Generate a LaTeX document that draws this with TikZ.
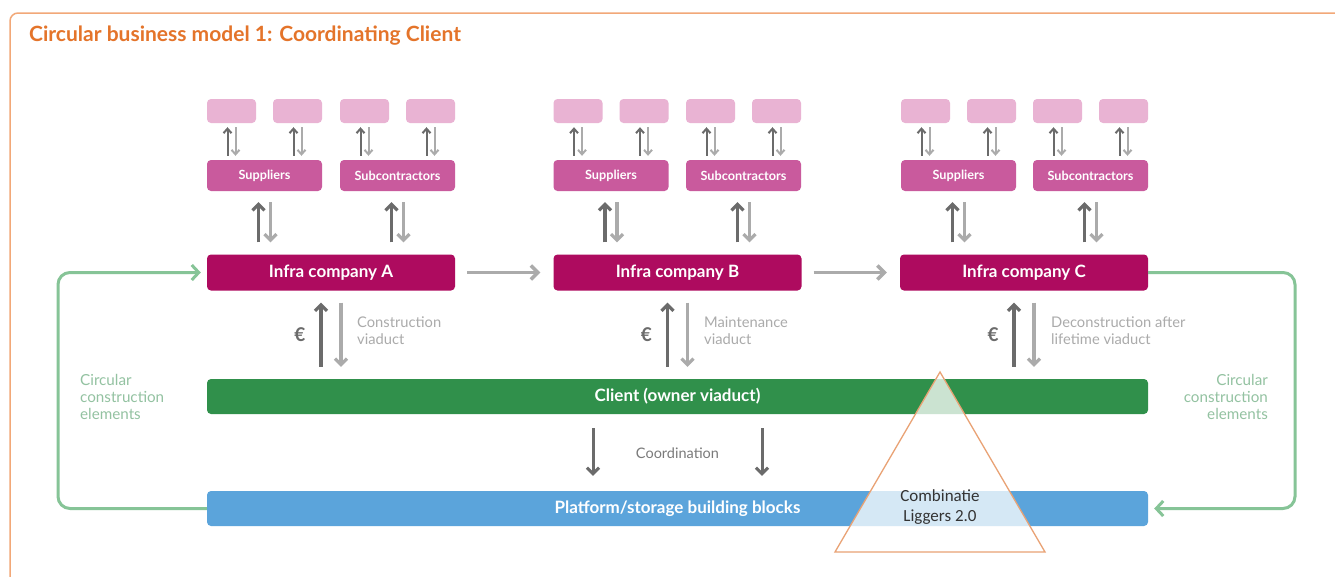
\documentclass[tikz,border=0pt]{standalone}
\usepackage{fontspec}
\setmainfont{Lato}
\newfontfamily\calib{Carlito}
\usetikzlibrary{arrows.meta,calc}
\definecolor{frameor}{HTML}{F2A878}
\definecolor{titleor}{HTML}{E4742A}
\definecolor{pinklt}{HTML}{E9B3D3}
\definecolor{pinkmd}{HTML}{C95A9D}
\definecolor{magen}{HTML}{AE0B5F}
\definecolor{clgreen}{HTML}{30904B}
\definecolor{plblue}{HTML}{5BA4DB}
\definecolor{loopgr}{HTML}{86C497}
\definecolor{txtgr}{HTML}{93C2A1}
\definecolor{ardark}{HTML}{6B6B6B}
\definecolor{arlight}{HTML}{ABABAB}
\definecolor{trior}{HTML}{E9A274}
\tikzset{
  leaf/.style={fill=pinklt,rounded corners=4pt,minimum width=49pt,minimum height=24pt,inner sep=0pt},
  party/.style={fill=pinkmd,rounded corners=4pt,minimum width=115pt,minimum height=31pt,inner sep=0pt,text=white,font=\fontsize{12.7}{15}\selectfont\bfseries},
  infra/.style={fill=magen,rounded corners=4pt,minimum width=248pt,minimum height=36pt,inner sep=0pt,text=white,font=\fontsize{17}{20}\selectfont\bfseries},
  bar/.style={rounded corners=4pt,minimum width=941pt,minimum height=35pt,inner sep=0pt,text=white,font=\fontsize{17}{20}\selectfont\bfseries},
  upsm/.style={draw=ardark,line width=2pt,-{Straight Barb[length=4.5pt,width=8pt]}},
  dnsm/.style={draw=arlight,line width=2pt,-{Straight Barb[length=4.5pt,width=8pt]}},
  upbig/.style={draw=ardark,line width=3.2pt,-{Straight Barb[length=6pt,width=12pt]}},
  dnbig/.style={draw=arlight,line width=3.2pt,-{Straight Barb[length=6pt,width=12pt]}},
  flow/.style={draw=arlight,line width=3.5pt,-{Straight Barb[length=7pt,width=14pt]}},
  loop/.style={draw=loopgr,line width=3pt,rounded corners=12pt,-{Straight Barb[length=7pt,width=15pt]}},
  grtxt/.style={text=arlight,font=\fontsize{14.7}{17}\selectfont,align=left,anchor=west,inner sep=0pt},
  euro/.style={text=ardark,font=\fontsize{19}{22}\selectfont\bfseries,inner sep=0pt},
  circ/.style={text=txtgr,font=\fontsize{15.2}{16.8}\selectfont,inner sep=0pt},
}
\begin{document}
\begin{tikzpicture}[x=1pt,y=-1pt]
\useasboundingbox (0,0) rectangle (1335,576);
\clip (0,0) rectangle (1335,576);
\fill[white] (0,0) rectangle (1335,576);
\draw[frameor,line width=1.5pt,rounded corners=8pt] (10,13) rectangle (1360,600);
\node[anchor=west,text=titleor,font=\fontsize{21}{24}\selectfont\bfseries,inner sep=0pt] (title) at (29,36) {Circular business model 1: Coordinating Client};

% bars
\node[bar,fill=clgreen] (cl) at (677.5,396.5) {Client (owner viaduct)};
\node[bar,fill=plblue] (pl) at (677.5,508.5) {Platform/storage building blocks};

% three companies
\foreach \n/\cx/\sx/\bx in {A/331/264.5/397.5, B/677.5/611/743.5, C/1024/958.5/1090.5}{
  \node[infra] (i\n) at (\cx,272.5) {Infra company \n};
  \node[party] (sup\n) at (\sx,175.5) {Suppliers};
  \node[party] (sub\n) at (\bx,175.5) {Subcontractors};
  \node[leaf] (l1\n) at (\sx-33,111) {};
  \node[leaf] (l2\n) at (\sx+33,111) {};
  \node[leaf] (l3\n) at (\bx-33,111) {};
  \node[leaf] (l4\n) at (\bx+33,111) {};
  \foreach \l/\p in {l1/sup,l2/sup,l3/sub,l4/sub}{
    \draw[upsm,shorten <=4pt,shorten >=4pt] ([xshift=-4pt]\p\n.north -| \l\n.south) -- ([xshift=-4pt]\l\n.south);
    \draw[dnsm,shorten <=4pt,shorten >=4pt] ([xshift=4pt]\l\n.south) -- ([xshift=4pt]\p\n.north -| \l\n.south);
  }
  \foreach \p in {sup,sub}{
    \draw[upbig,shorten <=12pt,shorten >=11pt] ([xshift=-6pt]i\n.north -| \p\n.south) -- ([xshift=-6pt]\p\n.south);
    \draw[dnbig,shorten <=11pt,shorten >=12pt] ([xshift=6pt]\p\n.south) -- ([xshift=6pt]i\n.north -| \p\n.south);
  }
  \draw[upbig,shorten <=12pt,shorten >=12pt] ([xshift=-10pt]cl.north -| i\n.south) -- ([xshift=-10pt]i\n.south);
  \draw[dnbig,shorten <=12pt,shorten >=12pt] ([xshift=10pt]i\n.south) -- ([xshift=10pt]cl.north -| i\n.south);
  \node[euro] (eu\n) at (\cx-31,335) {€};
}
\node[grtxt] (tA) at (357,331) {Construction\\viaduct};
\node[grtxt] (tB) at (704,331) {Maintenance\\viaduct};
\node[grtxt] (tC) at (1051,331) {Deconstruction after\\lifetime viaduct};

\draw[flow,shorten <=12pt,shorten >=13pt] (iA.east) -- (iB.west);
\draw[flow,shorten <=12pt,shorten >=13pt] (iB.east) -- (iC.west);

% coordination
\draw[draw=ardark,line width=3pt,-{Straight Barb[length=6pt,width=12pt]},shorten <=14pt,shorten >=15pt] (cl.south -| 593,0) -- (pl.north -| 593,0);
\draw[draw=ardark,line width=3pt,-{Straight Barb[length=6pt,width=12pt]},shorten <=14pt,shorten >=15pt] (cl.south -| 762,0) -- (pl.north -| 762,0);
\node[text=ardark!90,font=\fontsize{14.5}{17}\selectfont,inner sep=0pt] (coord) at (677.5,453) {Coordination};

% loops
\coordinate (lb) at (58,508.5);
\coordinate (lt) at (58,272.5);
\coordinate (rt) at (1295,272.5);
\coordinate (rb) at (1295,508.5);
\draw[loop,shorten >=6pt] (pl.west) -- (lb) -- (lt) -- (iA.west);
\draw[loop,shorten >=6pt] (iC.east) -- (rt) -- (rb) -- (pl.east);
\node[circ,align=left,anchor=west] (cL) at (80,397) {Circular\\construction\\elements};
\node[circ,align=right,anchor=east] (cR) at (1268,397) {Circular\\construction\\elements};

% triangle
\coordinate (ta) at (940,372);
\coordinate (tl) at (835,552);
\coordinate (tr) at (1045,552);
\fill[white,opacity=0.75] (ta) -- (tl) -- (tr) -- cycle;
\draw[trior,line width=1.3pt,line join=miter] (ta) -- (tl) -- (tr) -- cycle;
\node[font=\fontsize{17}{19.5}\selectfont\calib,text=black!80,align=center,inner sep=0pt] (comb) at (940,507) {Combinatie\\Liggers 2.0};
\end{tikzpicture}
\end{document}
